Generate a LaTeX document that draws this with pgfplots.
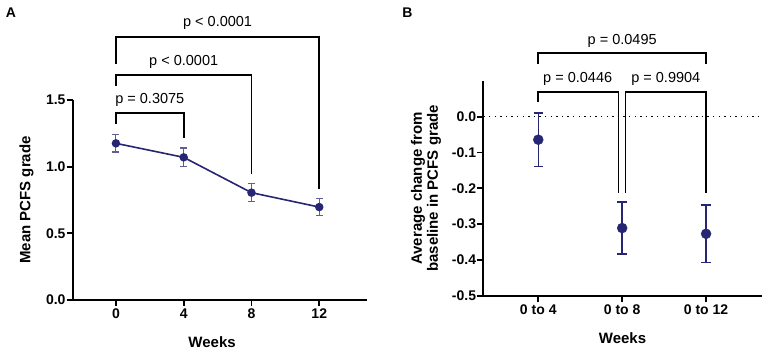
\documentclass[border=0pt]{standalone}
\usepackage{pgfplots}
\pgfplotsset{compat=1.18}
\usepackage{fontspec}
\setmainfont{Liberation Sans}
\definecolor{navy}{RGB}{38,38,115}
\definecolor{errA}{RGB}{95,95,150}
\tikzset{ptext/.style={font=\fontsize{14.5}{16}\selectfont},
  brk/.style={line width=1.7pt, line cap=rect}}
\begin{document}
\begin{tikzpicture}
\useasboundingbox (0pt,0pt) rectangle (767pt,351pt);
\pgfplotsset{
 common/.style={
  scale only axis, clip=false,
  axis x line*=bottom, axis y line*=left,
  axis line style={line width=2pt, -},
  x axis line style={-}, y axis line style={-},
  tick style={line width=1.8pt, black},
  tick align=outside, major tick length=6pt,
  tick label style={font=\fontsize{14}{16}\selectfont\bfseries},
  xticklabel style={inner sep=1pt, yshift=-2pt},
  yticklabel style={inner sep=1pt},
  label style={font=\fontsize{15}{16}\selectfont\bfseries},
  /pgf/number format/assume math mode=true,
 },
}
\node[font=\fontsize{14}{16}\selectfont\bfseries] at (11pt,338.5pt) {A};
\node[font=\fontsize{14}{16}\selectfont\bfseries] at (407.5pt,338.5pt) {B};

\begin{axis}[common, at={(72.7pt,51pt)}, anchor=south west,
  width=294pt, height=200pt,
  xmin=-2.55, xmax=14.8, ymin=0, ymax=1.5,
  xtick={0,4,8,12}, xticklabels={0,4,8,12},
  ytick={0,0.5,1,1.5}, yticklabels={0.0,0.5,1.0,1.5},
  xlabel={Weeks}, ylabel={Mean PCFS grade},
  xlabel style={at={(axis description cs:0.474,-0.21)}, anchor=center},
  ylabel style={at={(axis description cs:-0.157,0.5)}, anchor=center},
]
\addplot[navy, line width=1.6pt, mark=*, mark size=3.4pt, mark options={fill=navy, solid},
  error bars/.cd, y dir=both, y explicit,
  error bar style={errA, line width=1.1pt},
  error mark options={rotate=90, mark size=3.5pt, errA, line width=1.1pt}]
  table[x=x, y=y, y error=e] {
x y e
0 1.175 0.065
4 1.070 0.070
8 0.805 0.066
12 0.697 0.065
};
\draw[brk] (axis cs:0,1.775) -- (axis cs:0,1.975) -- (axis cs:12,1.975) -- (axis cs:12,0.84);
\node[ptext] at (axis cs:6,2.078) {p < 0.0001};
\draw[brk] (axis cs:0,1.6125) -- (axis cs:0,1.6875) -- (axis cs:8,1.6875) -- (axis cs:8,0.95);
\node[ptext] at (axis cs:4,1.785) {p < 0.0001};
\draw[brk] (axis cs:0,1.325) -- (axis cs:0,1.4) -- (axis cs:4,1.4) -- (axis cs:4,1.225);
\node[ptext] at (axis cs:2,1.5) {p = 0.3075};
\end{axis}

\begin{axis}[common, at={(483.3pt,55.3pt)}, anchor=south west,
  width=278.4pt, height=214.7pt,
  xmin=-0.655, xmax=2.663, ymin=-0.5, ymax=0.1,
  xtick={0,1,2}, xticklabels={0 to 4,0 to 8,0 to 12},
  ytick={-0.5,-0.4,-0.3,-0.2,-0.1,0}, yticklabels={-0.5,-0.4,-0.3,-0.2,-0.1,0.0},
  xlabel={Weeks},
  ylabel={Average change from\\baseline in PCFS grade},
  xlabel style={at={(axis description cs:0.5,-0.198)}, anchor=center},
  ylabel style={at={(axis description cs:-0.206,0.5)}, anchor=center, align=center},
]
\draw[line width=1.4pt, dash pattern=on 1.4pt off 4.2pt] (axis cs:-0.655,0) -- (axis cs:2.663,0);
\addplot[only marks, navy, mark=*, mark size=5pt, mark options={fill=navy},
  error bars/.cd, y dir=both, y explicit,
  error bar style={navy, line width=1.4pt},
  error mark options={rotate=90, mark size=4.7pt, navy, line width=1.4pt}]
  table[x=x, y=y, y error=e] {
x y e
0 -0.064 0.075
1 -0.311 0.073
2 -0.327 0.081
};
\draw[brk] (axis cs:0,0.149) -- (axis cs:0,0.1775) -- (axis cs:2,0.1775) -- (axis cs:2,0.149);
\node[ptext] at (axis cs:1,0.212) {p = 0.0495};
\draw[brk] (axis cs:0,0.0437) -- (axis cs:0,0.069) -- (axis cs:0.957,0.069) -- (axis cs:0.957,-0.211);
\node[ptext] at (axis cs:0.47,0.107) {p = 0.0446};
\draw[brk] (axis cs:1.04,-0.211) -- (axis cs:1.04,0.069) -- (axis cs:2,0.069) -- (axis cs:2,-0.211);
\node[ptext] at (axis cs:1.52,0.107) {p = 0.9904};
\end{axis}
\end{tikzpicture}
\end{document}
